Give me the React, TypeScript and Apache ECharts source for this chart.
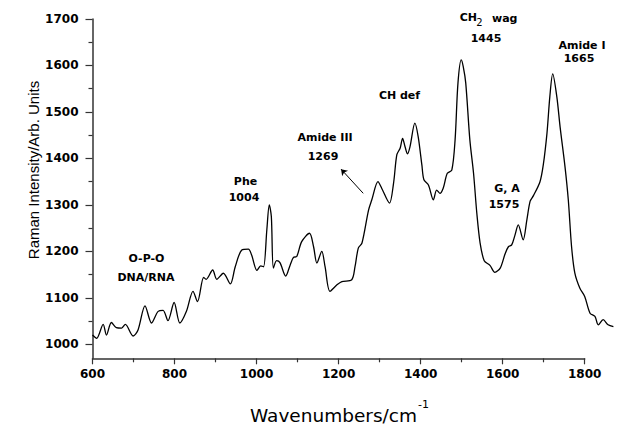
import React, { useEffect, useRef } from "react";
import * as echarts from "echarts";

// Raman spectrum (wavenumber, intensity)
const wavenumbers = [
  600, 610, 626, 634, 646, 658, 671, 680, 699, 711, 728, 744, 760, 772, 784, 799, 813, 829, 845, 856,
  871, 877, 893, 903, 919, 936, 948, 964, 980, 988, 1001, 1010, 1017, 1025, 1031, 1036, 1041, 1049, 1057, 1071,
  1082, 1090, 1098, 1110, 1129, 1139, 1147, 1159, 1167, 1179, 1196, 1208, 1232, 1240, 1248, 1257, 1273, 1281, 1296, 1305,
  1324, 1334, 1342, 1350, 1356, 1362, 1368, 1374, 1386, 1394, 1403, 1408, 1419, 1431, 1439, 1447, 1455, 1465, 1476, 1484,
  1491, 1499, 1504, 1510, 1520, 1529, 1537, 1545, 1555, 1569, 1581, 1594, 1606, 1614, 1622, 1630, 1638, 1650, 1659, 1667,
  1675, 1691, 1699, 1708, 1715, 1722, 1732, 1740, 1752, 1760, 1768, 1776, 1788, 1800, 1813, 1825, 1833, 1845, 1857, 1870,
];
const intensity = [
  1020, 1013, 1043, 1020, 1047, 1036, 1035, 1043, 1018, 1031, 1083, 1046, 1071, 1073, 1051, 1090, 1046, 1071, 1114, 1092,
  1144, 1140, 1160, 1140, 1153, 1130, 1167, 1203, 1205, 1192, 1159, 1169, 1167, 1246, 1300, 1275, 1164, 1180, 1176, 1147,
  1171, 1187, 1189, 1221, 1239, 1210, 1175, 1200, 1167, 1114, 1128, 1135, 1139, 1167, 1207, 1218, 1289, 1311, 1350, 1336,
  1304, 1347, 1408, 1422, 1443, 1425, 1410, 1425, 1476, 1447, 1386, 1354, 1343, 1311, 1332, 1325, 1336, 1368, 1375, 1440,
  1562, 1612, 1597, 1562, 1440, 1368, 1282, 1218, 1180, 1170, 1155, 1164, 1195, 1210, 1214, 1235, 1257, 1225, 1268, 1308,
  1320, 1350, 1386, 1454, 1533, 1582, 1533, 1468, 1382, 1311, 1210, 1153, 1121, 1103, 1067, 1060, 1042, 1053, 1042, 1038,
];

const xMin = 600;
const xMax = 1800;
const xDataMax = 1880; // spectrum runs a little past the axis end
const yMin = 970;
const yMax = 1700;
const yMajorTicks = [1000, 1100, 1200, 1300, 1400, 1500, 1600, 1700];
const yMinorTicks = [1050, 1150, 1250, 1350, 1450, 1550, 1650];

// Arrow pointing to the Amide III band (data coordinates: from, to)
const arrowFrom = [1260, 1325];
const arrowTo = [1206, 1377];

const xTitle = "Wavenumbers/cm";
const xTitleSup = "-1";
const yTitle = "Raman Intensity/Arb. Units";

export default function App() {
  const ref = useRef<HTMLDivElement>(null);

  useEffect(() => {
    const chart = echarts.init(ref.current as HTMLDivElement, null, { renderer: "svg" });
    const data = wavenumbers.map((w, i) => [w, intensity[i]]);
    const axisColor = "#333";
    const tickFont = { color: "#000", fontFamily: "DejaVu Sans", fontWeight: "bold", fontSize: 12 };
    const annFont = { fill: "#000", fontFamily: "DejaVu Sans", fontWeight: "bold", fontSize: 11 };
    const ann = (text: string, x: number, y: number, extra: any = {}) => ({
      type: "text",
      x,
      y,
      silent: true,
      style: { text, align: "center", verticalAlign: "middle", ...annFont, ...extra },
    });

    const gridLeft = 92.5;
    const gridRight = 48.3;
    const plotW = 633 - gridLeft - gridRight;
    const pxPerUnit = plotW / (xMax - xMin);
    const dataRight = 633 - gridLeft - pxPerUnit * (xDataMax - xMin);

    chart.setOption({
      animation: false,
      grid: [
        { left: gridLeft, right: gridRight, top: 19, bottom: 66.7, containLabel: false },
        { left: gridLeft, right: dataRight, top: 19, bottom: 66.7, containLabel: false },
      ],
      xAxis: [
        {
          type: "value",
          gridIndex: 0,
          min: xMin,
          max: xMax,
          interval: 200,
          axisLine: { show: true, lineStyle: { color: axisColor, width: 1.5 } },
          axisTick: { show: true, length: 6, lineStyle: { color: axisColor, width: 1.2 } },
          minorTick: { show: true, splitNumber: 2, length: 4, lineStyle: { color: axisColor, width: 1.2 } },
          axisLabel: { margin: 10, formatter: (v: number) => String(v), ...tickFont },
          splitLine: { show: false },
          minorSplitLine: { show: false },
        },
        { type: "value", gridIndex: 1, min: xMin, max: xDataMax, show: false, splitLine: { show: false } },
      ],
      yAxis: [
        {
          type: "value",
          gridIndex: 0,
          min: yMin,
          max: yMax,
          position: "left",
          axisLine: { show: true, lineStyle: { color: axisColor, width: 1.5 } },
          axisTick: { show: true, length: 7, customValues: yMajorTicks, lineStyle: { color: axisColor, width: 1.2 } },
          axisLabel: {
            show: true,
            margin: 14,
            customValues: yMajorTicks,
            formatter: (v: number) => String(v),
            ...tickFont,
          },
          splitLine: { show: false },
        },
        {
          type: "value",
          gridIndex: 0,
          min: yMin,
          max: yMax,
          position: "left",
          axisLine: { show: false },
          axisTick: { show: true, length: 4, customValues: yMinorTicks, lineStyle: { color: axisColor, width: 1.2 } },
          axisLabel: { show: false },
          splitLine: { show: false },
        },
        { type: "value", gridIndex: 1, min: yMin, max: yMax, show: false, splitLine: { show: false } },
      ],
      series: [
        {
          type: "line",
          xAxisIndex: 1,
          yAxisIndex: 2,
          data,
          symbol: "none",
          showSymbol: false,
          smooth: 0.3,
          clip: false,
          lineStyle: { color: "#000", width: 1.3 },
          markLine: {
            silent: true,
            symbol: ["none", "arrow"],
            symbolSize: 6,
            label: { show: false },
            lineStyle: { color: "#000", width: 1, type: "solid" },
            data: [[{ coord: arrowFrom }, { coord: arrowTo }]],
          },
        },
      ],
      graphic: [
        ann("O-P-O", 146.5, 258.5),
        ann("DNA/RNA", 146, 277),
        ann("Phe", 245.5, 181),
        ann("1004", 244, 197.5),
        ann("Amide III", 325, 137.5),
        ann("1269", 323, 156),
        ann("CH def", 399.5, 95),
        ann("CH", 477, 17.5, { align: "right" }),
        ann("2", 479.5, 22, { fontWeight: "normal", fontSize: 10 }),
        ann("wag", 492, 18, { align: "left" }),
        ann("1445", 486, 38),
        ann("Amide I", 582, 45),
        ann("1665", 579, 58),
        ann("G, A", 507, 188),
        ann("1575", 504, 204),
        {
          type: "text",
          x: 33,
          y: 170,
          rotation: Math.PI / 2,
          silent: true,
          style: {
            text: yTitle,
            align: "center",
            verticalAlign: "middle",
            fill: "#000",
            fontFamily: "Liberation Sans",
            fontSize: 15,
          },
        },
        {
          type: "text",
          x: 417,
          y: 415,
          silent: true,
          style: {
            text: xTitle,
            align: "right",
            verticalAlign: "middle",
            fill: "#000",
            fontFamily: "DejaVu Sans",
            fontSize: 18.5,
          },
        },
        {
          type: "text",
          x: 418,
          y: 404,
          silent: true,
          style: {
            text: xTitleSup,
            align: "left",
            verticalAlign: "middle",
            fill: "#000",
            fontFamily: "DejaVu Sans",
            fontSize: 11,
          },
        },
      ],
    });

    return () => chart.dispose();
  }, []);

  return (
    <div
      ref={ref}
      style={{ position: "fixed", left: 0, top: 0, width: 633, height: 425, background: "#fff" }}
    />
  );
}
